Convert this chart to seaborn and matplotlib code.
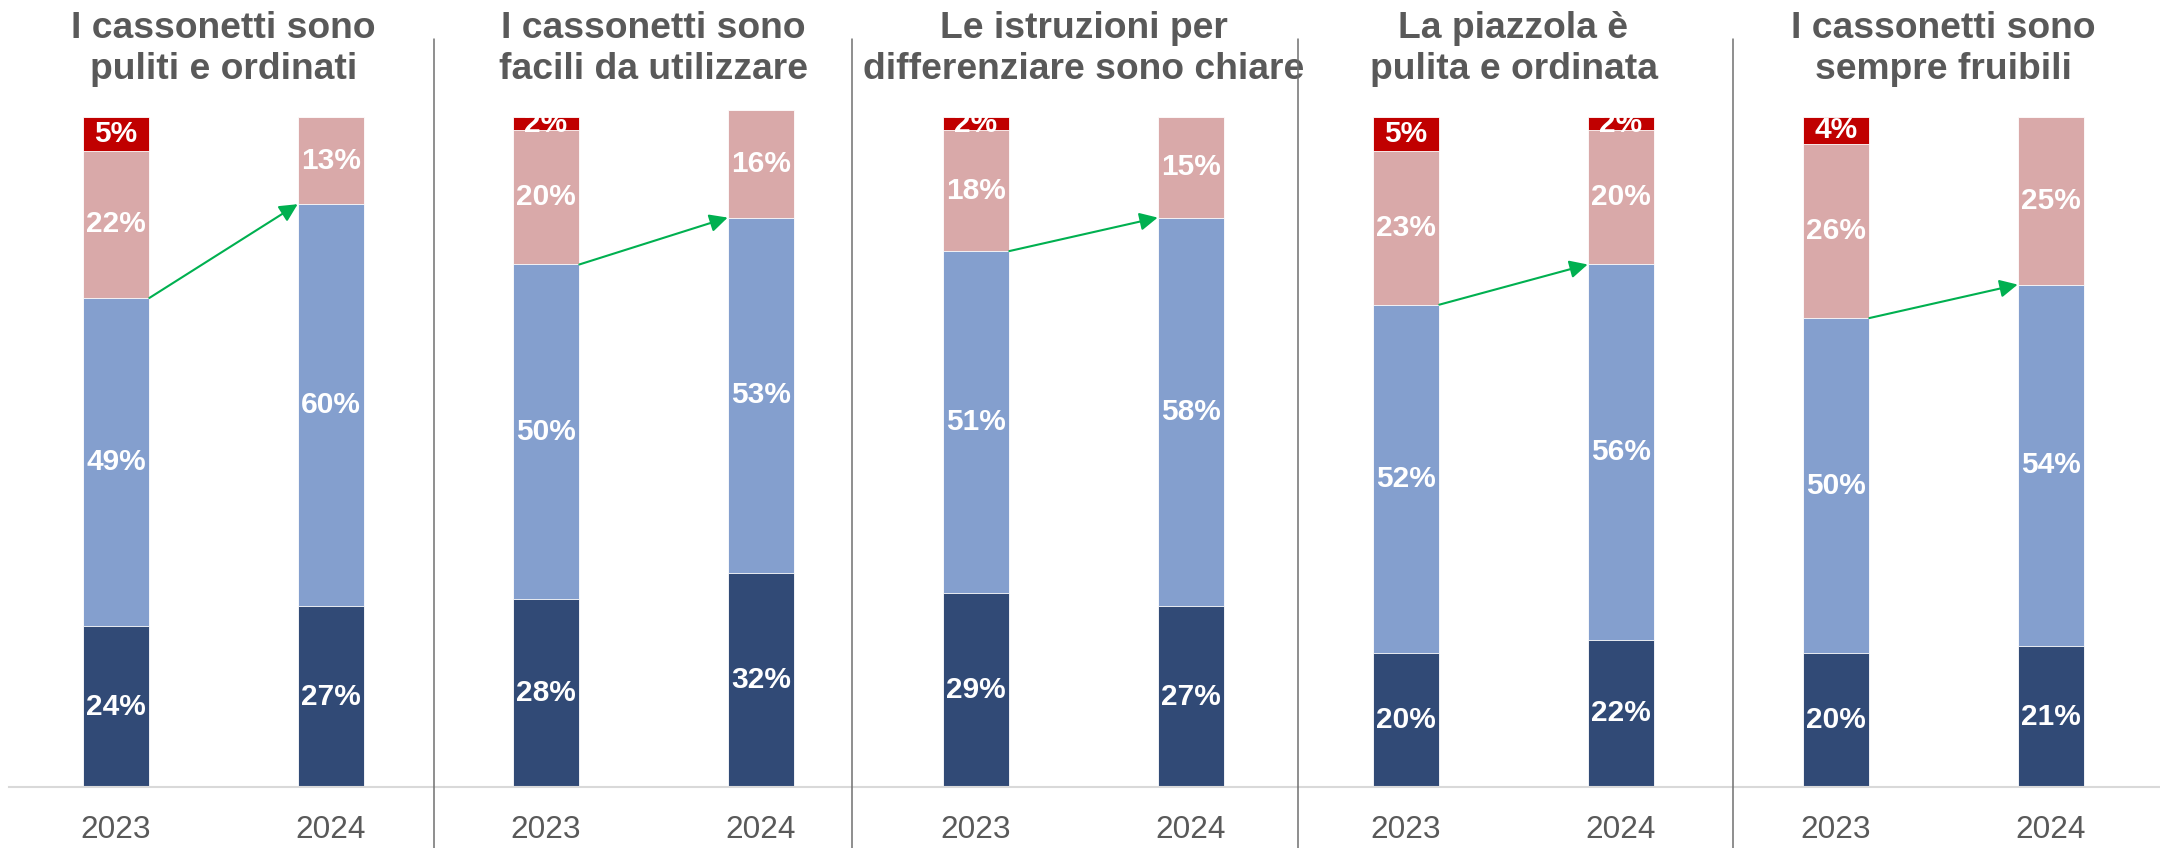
import matplotlib
matplotlib.use('Agg')
import matplotlib.pyplot as plt
import matplotlib.transforms as mtransforms
from matplotlib.lines import Line2D
from matplotlib.patches import Rectangle
import seaborn as sns
import pandas as pd
import numpy as np

# data (percent of respondents)
titles = [
    "I cassonetti sono\npuliti e ordinati",
    "I cassonetti sono\nfacili da utilizzare",
    "Le istruzioni per\ndifferenziare sono chiare",
    "La piazzola è\npulita e ordinata",
    "I cassonetti sono\nsempre fruibili",
]
years = ["2023", "2024"]
molto = [24, 27, 28, 32, 29, 27, 20, 22, 20, 21]
abbastanza = [49, 60, 50, 53, 51, 58, 52, 56, 50, 54]
poco = [22, 13, 20, 16, 18, 15, 23, 20, 26, 25]
per_niente = [5, 0, 2, 0, 2, 0, 5, 2, 4, 0]

colors = ["#314A76", "#849FCE", "#D9A9A9", "#C00000"]
GREY = "#595959"
BAR_W = 0.31

df = pd.DataFrame({
    "pos": np.arange(len(molto)),
    "molto": molto,
    "abbastanza": abbastanza,
    "poco": poco,
    "per_niente": per_niente,
})
layers = ["molto", "abbastanza", "poco", "per_niente"]
cum = df[layers].cumsum(axis=1)

sns.set_theme(style="white")
plt.rcParams['font.family'] = ['Liberation Sans', 'DejaVu Sans']

fig = plt.figure(figsize=(21.6, 8.48), dpi=100)
ax = fig.add_axes([8.5 / 2160, 61 / 848, 2150 / 2160, 690 / 848])

# stacked bars: draw cumulative totals from the top layer down
for layer, col in reversed(list(zip(layers, colors))):
    sns.barplot(x=df["pos"], y=cum[layer], color=col, saturation=1,
                width=BAR_W, errorbar=None, edgecolor="white",
                linewidth=0.6, ax=ax)

# segment labels, clipped to the bar outline
for i in range(len(df)):
    clip = Rectangle((i - BAR_W / 2, 0), BAR_W, cum.loc[i, "per_niente"],
                     transform=ax.transData)
    bottom = 0
    for layer in layers:
        v = df.loc[i, layer]
        if v > 0:
            t = ax.text(i, bottom + v / 2, f"{v}%", ha="center", va="center",
                        color="white", fontsize=21.5, fontweight="bold", zorder=5)
            t.set_clip_path(clip)
        bottom += v

# green arrows between the "positive" totals
for k in range(len(titles)):
    a, b = 2 * k, 2 * k + 1
    y0 = cum.loc[a, "abbastanza"]
    y1 = cum.loc[b, "abbastanza"]
    ax.annotate("", xy=(b - BAR_W / 2, y1), xytext=(a + BAR_W / 2, y0),
                arrowprops=dict(arrowstyle="-|>", color="#00B050", lw=1.5,
                                mutation_scale=27, shrinkA=0, shrinkB=0),
                zorder=6)

# panel titles (x in data, y in figure fraction)
title_tr = mtransforms.blended_transform_factory(ax.transData, fig.transFigure)
for k, title in enumerate(titles):
    ax.text(2 * k + 0.5, 1 - 49 / 848, title, transform=title_tr,
            ha="center", va="center", fontsize=26.8, fontweight="bold",
            color=GREY, linespacing=1.2, clip_on=False)

ax.set_xlim(-0.5, 9.5)
ax.set_ylim(0, 103)
ax.set_xticks(range(len(df)))
ax.set_xticklabels(years * len(titles), fontsize=22.7, color=GREY)
ax.tick_params(axis="x", length=0, pad=20)
ax.set_yticks([])
ax.set_xlabel("")
ax.set_ylabel("")
for side in ["top", "left", "right"]:
    ax.spines[side].set_visible(False)
ax.spines["bottom"].set_color("#D9D9D9")
ax.spines["bottom"].set_linewidth(1.5)

# panel separators
for xs in [434, 852, 1298, 1733]:
    fig.add_artist(Line2D([xs / 2160, xs / 2160], [0, 1 - 39 / 848],
                          transform=fig.transFigure, color="#707070", lw=1.1))

fig.savefig("out.png", dpi=100)
plt.close(fig)
